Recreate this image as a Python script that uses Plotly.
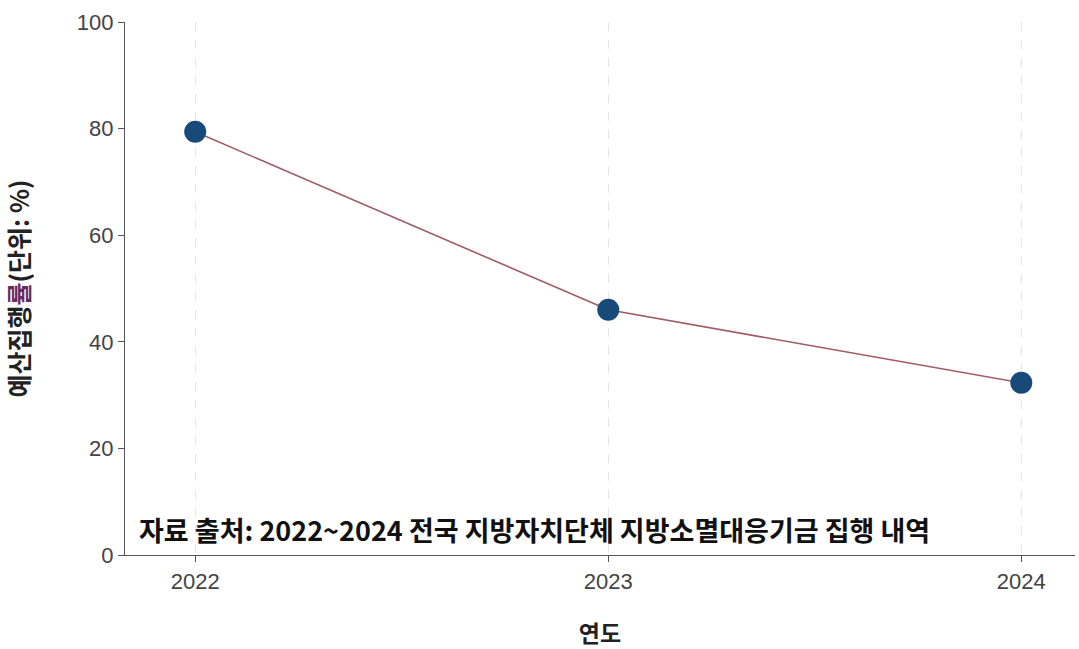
import plotly.graph_objects as go

years = [2022, 2023, 2024]
rates = [79.4, 46.0, 32.3]
x_ticks = [2022, 2023, 2024]
y_ticks = [0, 20, 40, 60, 80, 100]
source_text = "자료 출처: 2022~2024 전국 지방자치단체 지방소멸대응기금 집행 내역"

fig = go.Figure()
fig.add_trace(go.Scatter(
    x=years, y=rates, mode="lines+markers",
    line=dict(color="#a05a64", width=1.6),
    marker=dict(size=22, color="#174a78"),
    showlegend=False,
))

fig.add_annotation(
    x=0.013, y=0.008, xref="paper", yref="paper", xanchor="left", yanchor="bottom",
    text="<b>" + source_text + "</b>", showarrow=False,
    font=dict(size=27, color="#111111", family="Noto Sans CJK KR"),
)

fig.update_layout(
    width=1079, height=649,
    margin=dict(l=125, r=4, t=22, b=94),
    paper_bgcolor="white", plot_bgcolor="white",
    font=dict(family="Noto Sans CJK KR, Liberation Sans", color="#333333"),
    xaxis=dict(
        range=[2021.83, 2024.13], tickvals=x_ticks, ticktext=[str(t) for t in x_ticks],
        showgrid=True, gridcolor="#e4e4e4", griddash="dash", gridwidth=1,
        showline=True, linecolor="#555555", linewidth=1.2,
        ticks="outside", ticklen=6, tickcolor="#555555",
        tickfont=dict(size=22, color="#444444", family="Liberation Sans"),
        title=dict(text="<b>연도</b>", font=dict(size=23, color="#222222"), standoff=34),
        zeroline=False, automargin=False,
    ),
    yaxis=dict(
        range=[0, 100], tickvals=y_ticks,
        showgrid=False,
        showline=True, linecolor="#555555", linewidth=1.2,
        ticks="outside", ticklen=6, tickcolor="#555555",
        tickfont=dict(size=22, color="#444444", family="Liberation Sans"),
        title=dict(text="<b>예산집행<span style='color:#6a2a5a'>률</span>(단위: %)</b>",
                   font=dict(size=25, color="#222222"), standoff=45),
        zeroline=False, automargin=False,
    ),
)

fig.write_html("out.html", config={"displayModeBar": False},
               post_script="document.body.style.margin='0';document.body.style.overflow='hidden';")
